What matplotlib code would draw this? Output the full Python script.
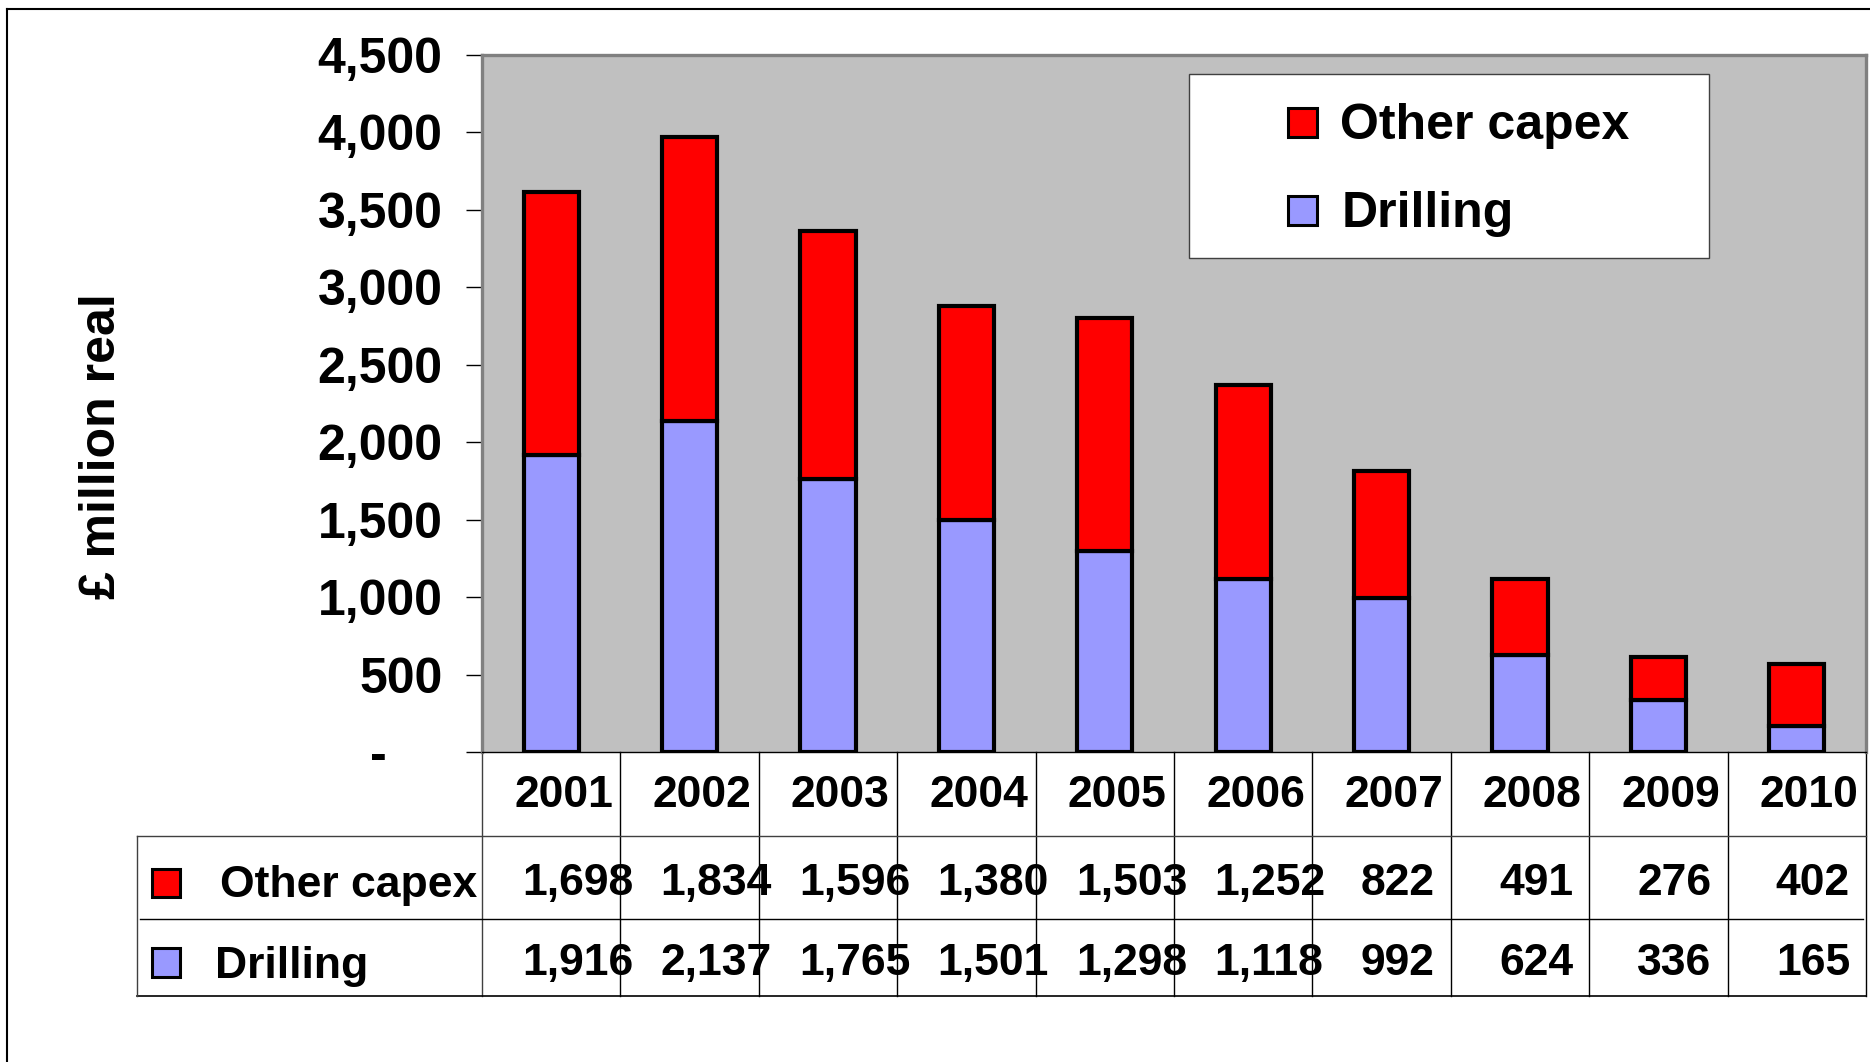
import numpy as np
import matplotlib
matplotlib.use("Agg")
import matplotlib.pyplot as plt
from matplotlib.patches import Rectangle
from matplotlib.lines import Line2D
from matplotlib.transforms import Affine2D

years = ["2001", "2002", "2003", "2004", "2005", "2006", "2007", "2008", "2009", "2010"]
other_capex = [1698, 1834, 1596, 1380, 1503, 1252, 822, 491, 276, 402]
drilling = [1916, 2137, 1765, 1501, 1298, 1118, 992, 624, 336, 165]
y_ticks = [0, 500, 1000, 1500, 2000, 2500, 3000, 3500, 4000, 4500]

RED = "#FF0000"
BLUE = "#9999FF"
W, H = 1870, 1062

plt.rcParams["font.family"] = ["Liberation Sans", "DejaVu Sans"]
plt.rcParams["font.weight"] = "bold"

fig = plt.figure(figsize=(W / 100, H / 100), dpi=100)
# pixel coords (top-left origin) for the decorations around the plot
pix = Affine2D().scale(1 / W, -1 / H).translate(0, 1) + fig.transFigure

ax = fig.add_axes([482 / W, 1 - 752 / H, (1866 - 482) / W, (752 - 55) / H])
ax.set_facecolor("#C0C0C0")

x = np.arange(len(years))
ax.bar(x, drilling, width=0.4, color=BLUE, edgecolor="black", linewidth=3, zorder=3)
ax.bar(x, other_capex, width=0.4, bottom=drilling, color=RED, edgecolor="black", linewidth=3, zorder=3)

ax.set_xlim(-0.5, len(years) - 0.5)
ax.set_ylim(0, 4500)
ax.set_xticks([])
ax.set_yticks(y_ticks)
ax.set_yticklabels(["-    " if v == 0 else f"{v:,}" for v in y_ticks], fontsize=36, fontweight="bold")
ax.tick_params(axis="y", direction="out", length=11.5, width=1, pad=17, colors="black")

for side in ["top", "left", "right"]:
    ax.spines[side].set_color("#808080")
    ax.spines[side].set_linewidth(2.4)
ax.spines["bottom"].set_color("black")
ax.spines["bottom"].set_linewidth(1)

# data table under the chart
def ya(py):
    return (752 - py) / 697

def xd(px):
    return (px - 482) / 138.4 - 0.5

tr = ax.get_xaxis_transform()
for i in range(len(years) + 1):
    ax.add_line(Line2D([i - 0.5, i - 0.5], [0, ya(996)], transform=tr, color="#404040" if i == 0 else "black",
                       lw=1, clip_on=False))
ax.add_line(Line2D([xd(137), 9.5], [ya(836), ya(836)], transform=tr, color="#404040", lw=1, clip_on=False))
ax.add_line(Line2D([xd(140), xd(1863)], [ya(919), ya(919)], transform=tr, color="black", lw=1, clip_on=False))
ax.add_line(Line2D([xd(137), 9.5], [ya(996), ya(996)], transform=tr, color="black", lw=1.2, clip_on=False))
ax.add_line(Line2D([xd(137), xd(137)], [ya(836), ya(996)], transform=tr, color="#404040", lw=1, clip_on=False))

for i, yr in enumerate(years):
    ax.text(i - 37 / 138.4, ya(807), yr, transform=tr, ha="left", va="baseline", fontsize=32, fontweight="bold")
    for vals, base in [(other_capex, 895), (drilling, 975)]:
        s = f"{vals[i]:,}"
        off = 29 if len(s) > 3 else 21
        ax.text(i - off / 138.4, ya(base), s, transform=tr, ha="left", va="baseline",
                fontsize=32, fontweight="bold")

# table row keys
fig.add_artist(Rectangle((152, 869), 28, 28, transform=pix, facecolor=RED, edgecolor="black", lw=2.2))
fig.add_artist(Rectangle((152, 948), 28, 29, transform=pix, facecolor=BLUE, edgecolor="black", lw=2.2))
fig.text(220, 897, "Other capex", transform=pix, ha="left", va="baseline", fontsize=32, fontweight="bold")
fig.text(215, 978, "Drilling", transform=pix, ha="left", va="baseline", fontsize=32, fontweight="bold")

# legend box
fig.add_artist(Rectangle((1189, 74), 520, 184, transform=pix, facecolor="white", edgecolor="#404040", lw=1, zorder=5))
fig.add_artist(Rectangle((1288, 108), 29, 29, transform=pix, facecolor=RED, edgecolor="black", lw=2.2, zorder=6))
fig.add_artist(Rectangle((1288, 196), 29, 29, transform=pix, facecolor=BLUE, edgecolor="black", lw=2.2, zorder=6))
fig.text(1340, 139, "Other capex", transform=pix, ha="left", va="baseline", fontsize=36, fontweight="bold", zorder=7)
fig.text(1342, 227, "Drilling", transform=pix, ha="left", va="baseline", fontsize=36, fontweight="bold", zorder=7)

fig.text(102, 446, "£ million real", transform=pix, rotation=90, ha="center", va="center",
         fontsize=36, fontweight="bold")

# outer frame (cut off at right and bottom)
fig.add_artist(Line2D([7, 7], [9, H], transform=pix, color="black", lw=1.5))
fig.add_artist(Line2D([7, W], [9, 9], transform=pix, color="black", lw=1.5))

fig.savefig("out.png", dpi=100)
